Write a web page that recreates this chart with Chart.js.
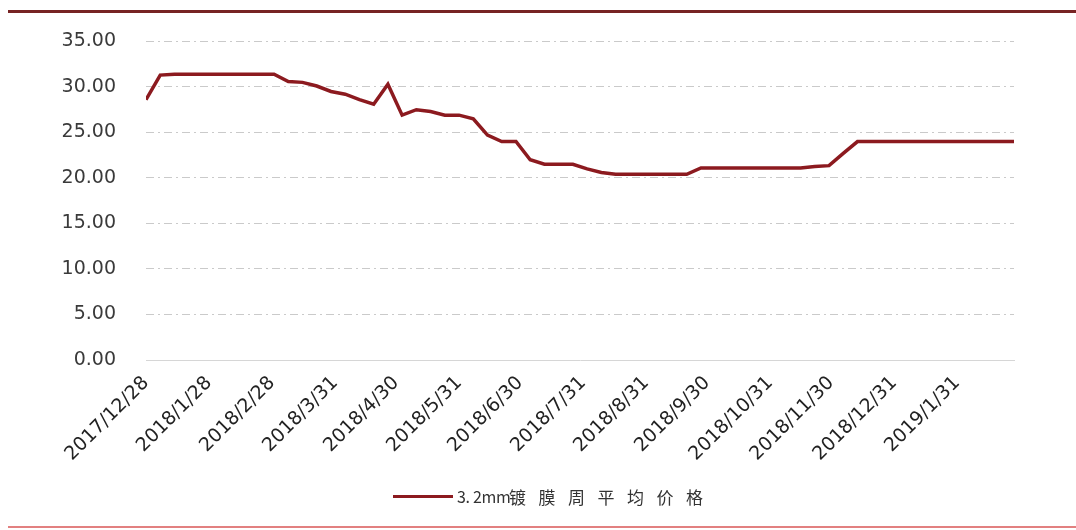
<!DOCTYPE html>
<html>
<head>
<meta charset="utf-8">
<script src="https://cdn.jsdelivr.net/npm/chart.js@4.4.1/dist/chart.umd.min.js"></script>
<style>
  html, body { margin: 0; padding: 0; background: #fff; }
  #wrap { position: relative; width: 1076px; height: 530px; overflow: hidden; background: #fff; }
  #chart { position: absolute; left: 0; top: 0; }
  .topline { position: absolute; left: 8px; top: 10px; width: 1068px; height: 3px; background: #772323; }
  .bottomline { position: absolute; left: 8px; top: 526px; width: 1068px; height: 2px; background: #e28080; }
  #legend { position: absolute; left: 393px; top: 484px; height: 24px; display: flex; align-items: center;
            font-family: "Noto Sans CJK SC", sans-serif; font-size: 17px; color: #333; }
  #legend .swatch { width: 60px; height: 3px; background: #8c1a1f; margin-right: 4px; }
  #legend .lat { display: inline-block; width: 52px; font-size: 16px; letter-spacing: -0.3px; white-space: pre; }
  #legend .cn { letter-spacing: 12.5px; }
</style>
</head>
<body>
<div id="wrap">
  <div class="topline"></div>
  <canvas id="chart" width="1076" height="530"></canvas>
  <div id="legend"><span class="swatch"></span><span class="lat">3. 2mm</span><span class="cn">镀膜周平均价格</span></div>
  <div class="bottomline"></div>
</div>
<script>
// weekly observation dates
const weekDates = [
  "2017/12/28",
  "2018/1/4", "2018/1/11", "2018/1/18", "2018/1/25",
  "2018/2/1", "2018/2/8", "2018/2/15", "2018/2/22",
  "2018/3/1", "2018/3/8", "2018/3/15", "2018/3/22", "2018/3/29",
  "2018/4/5", "2018/4/12", "2018/4/19", "2018/4/26",
  "2018/5/3", "2018/5/10", "2018/5/17", "2018/5/24", "2018/5/31",
  "2018/6/7", "2018/6/14", "2018/6/21", "2018/6/28",
  "2018/7/5", "2018/7/12", "2018/7/19", "2018/7/26",
  "2018/8/2", "2018/8/9", "2018/8/16", "2018/8/23", "2018/8/30",
  "2018/9/6", "2018/9/13", "2018/9/20", "2018/9/27",
  "2018/10/4", "2018/10/11", "2018/10/18", "2018/10/25",
  "2018/11/1", "2018/11/8", "2018/11/15", "2018/11/22", "2018/11/29",
  "2018/12/6", "2018/12/13", "2018/12/20", "2018/12/27",
  "2019/1/3", "2019/1/10", "2019/1/17", "2019/1/24", "2019/1/31",
  "2019/2/7", "2019/2/14", "2019/2/21", "2019/2/28"
];

// 3.2mm coated glass weekly average price
const weeklyPrice = [
  28.6,
  31.3, 31.4, 31.4, 31.4,
  31.4, 31.4, 31.4, 31.4,
  31.4, 30.6, 30.5, 30.1, 29.5,
  29.2, 28.6, 28.1, 30.3,
  26.9, 27.5, 27.3, 26.9, 26.9,
  26.5, 24.7, 24.0, 24.0,
  22.0, 21.5, 21.5, 21.5,
  21.0, 20.6, 20.4, 20.4, 20.4,
  20.4, 20.4, 20.4, 21.1,
  21.1, 21.1, 21.1, 21.1,
  21.1, 21.1, 21.1, 21.25, 21.35,
  22.7, 24.0, 24.0, 24.0,
  24.0, 24.0, 24.0, 24.0, 24.0,
  24.0, 24.0, 24.0, 24.0
];

const tickDates = [
  "2017/12/28", "2018/1/28", "2018/2/28", "2018/3/31", "2018/4/30",
  "2018/5/31", "2018/6/30", "2018/7/31", "2018/8/31", "2018/9/30",
  "2018/10/31", "2018/11/30", "2018/12/31", "2019/1/31"
];

const seriesName = "3. 2mm镀膜周平均价格";

function dayOf(s) {
  const [y, m, d] = s.split("/").map(Number);
  return Date.UTC(y, m - 1, d) / 86400000;
}
const day0 = dayOf(weekDates[0]);

const points = weekDates.map((d, i) => ({ x: dayOf(d) - day0, y: weeklyPrice[i] }));

const ctx = document.getElementById("chart");
new Chart(ctx, {
  type: "line",
  data: {
    datasets: [{
      label: seriesName,
      data: points,
      borderColor: "#8c1a1f",
      backgroundColor: "#8c1a1f",
      borderWidth: 3.5,
      pointRadius: 0,
      tension: 0,
      fill: false,
    }],
  },
  options: {
    responsive: false,
    animation: false,
    layout: { padding: { top: 39, right: 62, left: 0, bottom: 0 } },
    plugins: {
      legend: { display: false },
      tooltip: { enabled: false },
    },
    scales: {
      x: {
        type: "linear",
        min: 0,
        max: dayOf(weekDates[weekDates.length - 1]) - day0,
        afterBuildTicks: (scale) => {
          scale.ticks = tickDates.map((t) => ({ value: dayOf(t) - day0 }));
        },
        afterFit: (scale) => { scale.height = 170; },
        grid: { display: false },
        border: { display: true, color: "#d6d6d6", width: 1 },
        ticks: {
          autoSkip: false,
          minRotation: 45,
          maxRotation: 45,
          padding: 4,
          color: "#222",
          font: { family: "DejaVu Sans", size: 19 },
          callback: (v, i) => tickDates[i],
        },
      },
      y: {
        min: 0,
        max: 35,
        afterFit: (scale) => { scale.width = 146; },
        grid: {
          drawTicks: false,
          lineWidth: 1,
          color: (c) => (c.tick && c.tick.value === 0 ? "rgba(0,0,0,0)" : "#cacaca"),
          borderDash: [8, 4, 2, 4],
        },
        border: { display: false, dash: [8, 4, 2, 4] },
        ticks: {
          stepSize: 5,
          padding: 30,
          color: "#3a3a3a",
          font: { family: "DejaVu Sans", size: 19 },
          callback: (v) => v.toFixed(2),
        },
      },
    },
  },
});
</script>
</body>
</html>
